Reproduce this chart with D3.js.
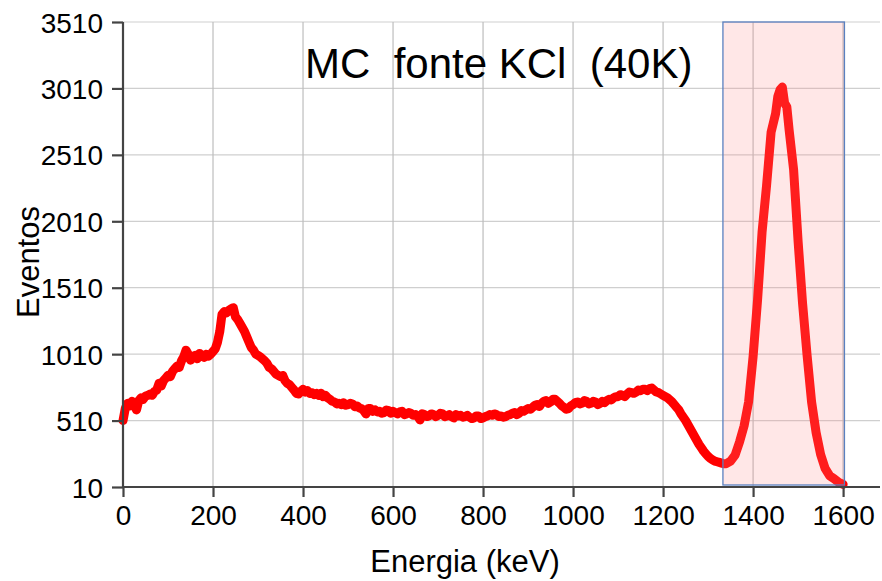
<!DOCTYPE html>
<html>
<head>
<meta charset="utf-8">
<script src="https://cdn.jsdelivr.net/npm/d3@7"></script>
<style>
  body { margin: 0; background: #fff; }
  svg { display: block; font-family: "Liberation Sans", Arial, sans-serif; }
</style>
</head>
<body>
<svg id="chart" width="882" height="581"></svg>
<script>
// energy bins (keV) and simulated counts
const energies = [
  0, 5, 10, 15, 20, 25, 30, 35, 40, 45, 50, 55, 60, 65, 70, 75, 80, 85, 90, 95,
  100, 105, 110, 115, 120, 125, 130, 135, 140, 145, 150, 155, 160, 165, 170, 175, 180, 185, 190, 195,
  200, 205, 210, 215, 220, 225, 230, 235, 240, 245, 250, 255, 260, 265, 270, 275, 280, 285, 290, 295,
  300, 305, 310, 315, 320, 325, 330, 335, 340, 345, 350, 355, 360, 365, 370, 375, 380, 385, 390, 395,
  400, 405, 410, 415, 420, 425, 430, 435, 440, 445, 450, 455, 460, 465, 470, 475, 480, 485, 490, 495,
  500, 505, 510, 515, 520, 525, 530, 535, 540, 545, 550, 555, 560, 565, 570, 575, 580, 585, 590, 595,
  600, 605, 610, 615, 620, 625, 630, 635, 640, 645, 650, 655, 660, 665, 670, 675, 680, 685, 690, 695,
  700, 705, 710, 715, 720, 725, 730, 735, 740, 745, 750, 755, 760, 765, 770, 775, 780, 785, 790, 795,
  800, 805, 810, 815, 820, 825, 830, 835, 840, 845, 850, 855, 860, 865, 870, 875, 880, 885, 890, 895,
  900, 905, 910, 915, 920, 925, 930, 935, 940, 945, 950, 955, 960, 965, 970, 975, 980, 985, 990, 995,
  1000, 1005, 1010, 1015, 1020, 1025, 1030, 1035, 1040, 1045, 1050, 1055, 1060, 1065, 1070, 1075, 1080, 1085, 1090, 1095,
  1100, 1105, 1110, 1115, 1120, 1125, 1130, 1135, 1140, 1145, 1150, 1155, 1160, 1165, 1170, 1175, 1180, 1185, 1190, 1195,
  1200, 1205, 1210, 1215, 1220, 1225, 1230, 1235, 1240, 1245, 1250, 1255, 1260, 1265, 1270, 1275, 1280, 1285, 1290, 1295,
  1300, 1305, 1310, 1315, 1320, 1325, 1330, 1335, 1340, 1350, 1360, 1370, 1380, 1390,
  1400, 1410, 1420, 1430, 1440, 1450, 1455, 1460, 1465, 1470, 1475, 1480, 1490,
  1500, 1510, 1520, 1530, 1540, 1550, 1560, 1570, 1580, 1590, 1600
];
const counts = [
  510, 600, 640, 620, 655, 630, 590, 660, 680, 670, 695, 700, 710, 700, 730, 740, 790, 770, 810, 830,
  850, 840, 880, 900, 920, 910, 960, 990, 1040, 1010, 965, 990, 1000, 975, 1015, 1000, 985, 1010, 995, 1010,
  1030, 1050, 1100, 1180, 1310, 1330, 1320, 1340, 1350, 1360, 1290, 1270, 1240, 1210, 1180, 1140, 1100, 1060, 1040, 1010,
  1000, 990, 975, 960, 940, 910, 900, 880, 860, 850, 840, 850, 810, 790, 780, 760, 740, 715, 710, 730,
  745, 725, 735, 715, 720, 705, 715, 700, 715, 690, 700, 680, 670, 655, 650, 635, 640, 630, 645, 625,
  630, 640, 635, 615, 620, 605, 600, 585, 560, 600, 600, 580, 590, 575, 580, 565, 570, 590, 585, 565,
  580, 570, 560, 575, 580, 555, 560, 570, 565, 550, 555, 540, 515, 560, 555, 540, 545, 560, 555, 540,
  550, 565, 560, 540, 545, 555, 540, 530, 555, 545, 550, 535, 540, 550, 535, 525, 530, 545, 545, 525,
  530, 540, 545, 555, 550, 560, 555, 540, 545, 535, 540, 550, 555, 565, 570, 555, 565, 585, 580, 590,
  600, 595, 610, 625, 630, 615, 640, 655, 660, 640, 650, 670, 670, 655, 640, 620, 610, 595, 600, 620,
  630, 645, 650, 635, 640, 660, 655, 635, 640, 655, 650, 630, 640, 655, 645, 660, 670, 665, 680, 690,
  690, 705, 700, 690, 710, 725, 720, 715, 725, 740, 735, 745, 745, 735, 750, 755, 740, 725, 720, 710,
  700, 690, 680, 665, 650, 630, 610, 590, 560, 535, 510, 480, 450, 420, 390, 360, 330, 305, 280, 260,
  240, 225, 215, 205, 200, 195, 190, 185, 185, 205, 250, 350, 470, 650,
  990, 1420, 1930, 2280, 2680, 2820, 2950, 3000, 3020, 2900, 2870, 2700, 2400,
  1860, 1390, 1000, 650, 420, 255, 150, 95, 72, 45, 30
];

const xTicks = [0, 200, 400, 600, 800, 1000, 1200, 1400, 1600];
const yTicks = [10, 510, 1010, 1510, 2010, 2510, 3010, 3510];

// highlighted region of the photopeak
const peakWindow = [1333, 1603];

const titleText = "MC  fonte KCl  (40K)";
const xLabel = "Energia (keV)";
const yLabel = "Eventos";

const svg = d3.select("#chart");
const plot = {left: 123, right: 880, top: 22, bottom: 487};

const x = d3.scaleLinear().domain([0, 1682]).range([plot.left, plot.right]);
const y = d3.scaleLinear().domain([10, 3510]).range([plot.bottom, plot.top]);

// grid
svg.append("g")
  .selectAll("line")
  .data(yTicks.slice(1))
  .join("line")
    .attr("x1", plot.left).attr("x2", plot.right)
    .attr("y1", d => y(d)).attr("y2", d => y(d))
    .attr("stroke", "#cfcfcf").attr("stroke-width", 1.2);

svg.append("g")
  .selectAll("line")
  .data(xTicks.slice(1))
  .join("line")
    .attr("x1", d => x(d)).attr("x2", d => x(d))
    .attr("y1", plot.top).attr("y2", plot.bottom)
    .attr("stroke", "#bdbdbd").attr("stroke-width", 1.2);

// title
svg.append("text")
  .attr("x", 305).attr("y", 78)
  .attr("font-size", 42)
  .attr("fill", "#000")
  .style("white-space", "pre")
  .text(titleText);

// spectrum
const data = energies.map((e, i) => ({e: e, c: counts[i]}));
const line = d3.line().x(d => x(d.e)).y(d => y(d.c)).curve(d3.curveLinear);

svg.append("path")
  .datum(data)
  .attr("d", line)
  .attr("fill", "none")
  .attr("stroke", "#ff0000")
  .attr("stroke-width", 9)
  .attr("stroke-linejoin", "round")
  .attr("stroke-linecap", "round");

// peak window box, translucent on top of the curve
svg.append("rect")
  .attr("x", x(peakWindow[0]))
  .attr("y", y(3510))
  .attr("width", x(peakWindow[1]) - x(peakWindow[0]))
  .attr("height", y(10) - y(3510) - 2)
  .attr("fill", "rgb(255,143,143)")
  .attr("fill-opacity", 0.21)
  .attr("stroke", "#5a80c0")
  .attr("stroke-width", 1.3);

// axes
const xAxis = d3.axisBottom(x).tickValues(xTicks).tickFormat(d3.format("d"))
  .tickSize(10).tickPadding(8);
const yAxis = d3.axisLeft(y).tickValues(yTicks).tickFormat(d3.format("d"))
  .tickSize(11).tickPadding(9);

const gx = svg.append("g").attr("transform", `translate(0,${plot.bottom})`).call(xAxis);
const gy = svg.append("g").attr("transform", `translate(${plot.left},0)`).call(yAxis);

[gx, gy].forEach(g => {
  g.select(".domain").attr("stroke", "#444").attr("stroke-width", 2.2);
  g.selectAll(".tick line").attr("stroke", "#444").attr("stroke-width", 2.2);
  g.selectAll(".tick text")
    .attr("fill", "#000")
    .attr("font-size", 28)
    .attr("font-family", "Liberation Sans, Arial, sans-serif");
});
gx.select(".domain").attr("d", `M${plot.left},0H${plot.right}`);
gy.select(".domain").attr("d", `M0,${plot.bottom}V${plot.top}`);
gy.selectAll(".tick text").attr("dy", "0.36em");

// axis titles
svg.append("text")
  .attr("x", 465).attr("y", 572)
  .attr("text-anchor", "middle")
  .attr("font-size", 31)
  .text(xLabel);

svg.append("text")
  .attr("transform", "translate(39,262) rotate(-90)")
  .attr("text-anchor", "middle")
  .attr("font-size", 31)
  .text(yLabel);
</script>
</body>
</html>
